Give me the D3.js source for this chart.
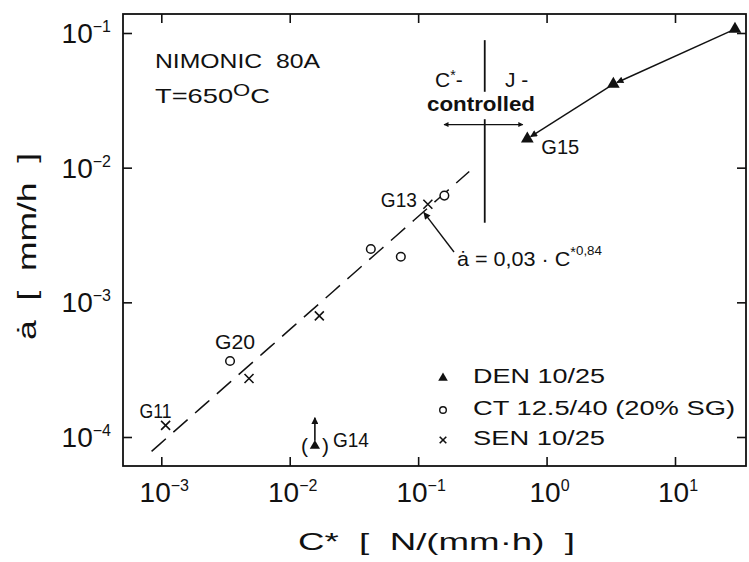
<!DOCTYPE html>
<html><head><meta charset="utf-8">
<script src="https://cdn.jsdelivr.net/npm/d3@7"></script>
<style>
html,body{margin:0;padding:0;background:#fff;}
svg{display:block;font-family:"Liberation Sans",Arial,sans-serif;}
text{fill:#111;}
</style></head>
<body><svg id="c" width="749" height="562"></svg>
<script>
// ---- data ----
const xTickValues = [1e-3, 1e-2, 1e-1, 1, 10];
const xTickExps = ["\u22123", "\u22122", "\u22121", "0", "1"];
const yTickValues = [1e-1, 1e-2, 1e-3, 1e-4];
const yTickExps = ["\u22121", "\u22122", "\u22123", "\u22124"];

const denC = [0.708, 3.31, 29.3];
const denA = [0.0164, 0.0417, 0.107];
const ctC = [3.43e-3, 0.0428, 0.0733, 0.160];
const ctA = [3.67e-4, 2.49e-3, 2.18e-3, 6.2e-3];
const senC = [1.08e-3, 4.82e-3, 0.0170, 0.119];
const senA = [1.22e-4, 2.72e-4, 7.93e-4, 5.35e-3];
const g14C = [0.0157];
const g14A = [8.6e-5];

const fitCoef = 0.03, fitExp = 0.84;
const fitRange = [8.4e-4, 0.25];
const boundaryC = 0.33;
const boundaryUpper = [0.0885, 0.0366];
const boundaryLower = [0.0229, 0.0039];
const arrowA = 0.0209, arrowC = [0.159, 0.653];

const legendLabels = ["DEN 10/25", "CT 12.5/40 (20% SG)", "SEN 10/25"];

// ---- layout ----
const svg = d3.select("#c");
const L = 123, R = 746, T = 14, B = 466;
const x = d3.scaleLog().domain([1e-3, 10]).range([161.3, 675]);
const y = d3.scaleLog().domain([1e-4, 1e-1]).range([437, 33]);

const defs = svg.append("defs");
defs.append("marker").attr("id","ah").attr("viewBox","0 0 10 10").attr("refX",9).attr("refY",5)
  .attr("markerWidth",9).attr("markerHeight",7).attr("markerUnits","userSpaceOnUse").attr("orient","auto")
  .append("path").attr("d","M0,0 L10,5 L0,10 z").attr("fill","#111");
defs.append("marker").attr("id","ahs").attr("viewBox","0 0 10 10").attr("refX",9).attr("refY",5)
  .attr("markerWidth",8).attr("markerHeight",5).attr("markerUnits","userSpaceOnUse").attr("orient","auto-start-reverse")
  .append("path").attr("d","M0,0 L10,5 L0,10 z").attr("fill","#111");

// frame
svg.append("rect").attr("x",L).attr("y",T).attr("width",R-L).attr("height",B-T)
  .attr("fill","none").attr("stroke","#111").attr("stroke-width",1.8);

// axes with inward ticks
const tl = 9;
const styleAxis = g=>{g.select(".domain").remove(); g.selectAll("line").attr("stroke","#111").attr("stroke-width",1.6);};
svg.append("g").attr("transform",`translate(0,${B})`)
  .call(d3.axisBottom(x).tickValues(xTickValues).tickSize(-tl).tickFormat("")).call(styleAxis);
svg.append("g").attr("transform",`translate(0,${T})`)
  .call(d3.axisTop(x).tickValues(xTickValues).tickSize(-tl).tickFormat("")).call(styleAxis);
svg.append("g").attr("transform",`translate(${L},0)`)
  .call(d3.axisLeft(y).tickValues(yTickValues).tickSize(-tl).tickFormat("")).call(styleAxis);
svg.append("g").attr("transform",`translate(${R},0)`)
  .call(d3.axisRight(y).tickValues(yTickValues).tickSize(-tl).tickFormat("")).call(styleAxis);

// tick labels
xTickValues.forEach((v,i)=>{
  const t = svg.append("text").attr("x", x(v)+3).attr("y", 502).attr("text-anchor","middle")
    .attr("font-size",28);
  t.append("tspan").text("10");
  t.append("tspan").attr("dy",-11).attr("font-size",16).text(xTickExps[i]);
});
yTickValues.forEach((v,i)=>{
  const t = svg.append("text").attr("x", 111).attr("y", y(v)+10).attr("text-anchor","end")
    .attr("font-size",28);
  t.append("tspan").text("10");
  t.append("tspan").attr("dy",-11).attr("font-size",16).text(yTickExps[i]);
});

// axis titles
svg.append("text").attr("x",298).attr("y",550).attr("font-size",24)
  .attr("textLength",277).attr("lengthAdjust","spacingAndGlyphs")
  .style("white-space","pre").text("C*  [  N/(mm\u00b7h)  ]");
svg.append("text").attr("transform","translate(36,340) rotate(-90)").attr("font-size",25)
  .attr("textLength",187).attr("lengthAdjust","spacingAndGlyphs")
  .style("white-space","pre").text("\u0227  [  mm/h  ]");

// fit line (dashed)
const fitPts = d3.range(0, 41).map(i => {
  const lc = Math.log10(fitRange[0]) + i/40*(Math.log10(fitRange[1]) - Math.log10(fitRange[0]));
  const c = Math.pow(10, lc);
  return [c, fitCoef*Math.pow(c, fitExp)];
});
svg.append("path").datum(fitPts)
  .attr("d", d3.line().x(d=>x(d[0])).y(d=>y(d[1])))
  .attr("fill","none").attr("stroke","#111").attr("stroke-width",1.5).attr("stroke-dasharray","19,10");

// boundary line
svg.append("line").attr("x1",x(boundaryC)).attr("x2",x(boundaryC)).attr("y1",y(boundaryUpper[0])).attr("y2",y(boundaryUpper[1]))
  .attr("stroke","#111").attr("stroke-width",1.8);
svg.append("line").attr("x1",x(boundaryC)).attr("x2",x(boundaryC)).attr("y1",y(boundaryLower[0])).attr("y2",y(boundaryLower[1]))
  .attr("stroke","#111").attr("stroke-width",1.8);
svg.append("line").attr("x1",x(arrowC[0])).attr("x2",x(arrowC[1])).attr("y1",y(arrowA)).attr("y2",y(arrowA))
  .attr("stroke","#111").attr("stroke-width",1.3).attr("marker-start","url(#ahs)").attr("marker-end","url(#ahs)");

svg.append("text").attr("x",435).attr("y",87).attr("font-size",21)
  .html('C<tspan dy="-7" font-size="14">*</tspan><tspan dy="7">-</tspan>');
svg.append("text").attr("x",505).attr("y",87).attr("font-size",21).style("white-space","pre").text("J -");
svg.append("text").attr("x",427).attr("y",111).attr("font-size",20).attr("font-weight","bold")
  .attr("textLength",108).attr("lengthAdjust","spacingAndGlyphs").text("controlled");

// DEN connecting arrows (from high C* down to G15)
for (let i = denC.length-1; i > 0; i--) {
  const x1 = x(denC[i]), y1 = y(denA[i]), x2 = x(denC[i-1]), y2 = y(denA[i-1]);
  const dx = x2-x1, dy = y2-y1, len = Math.hypot(dx,dy);
  svg.append("line").attr("x1",x1).attr("y1",y1).attr("x2",x2 - dx/len*4).attr("y2",y2 - dy/len*4)
    .attr("stroke","#111").attr("stroke-width",1.4).attr("marker-end","url(#ah)");
}

// markers
const tri = d3.symbol().type(d3.symbolTriangle).size(70);
svg.selectAll(".den").data(denC.map((c,i)=>[c,denA[i]])).join("path")
  .attr("transform",d=>`translate(${x(d[0])},${y(d[1])})`).attr("d",tri).attr("fill","#111");
svg.selectAll(".ct").data(ctC.map((c,i)=>[c,ctA[i]])).join("circle")
  .attr("cx",d=>x(d[0])).attr("cy",d=>y(d[1])).attr("r",4.3)
  .attr("fill","#fff").attr("stroke","#111").attr("stroke-width",1.5);
const cross = (sel, s) => sel.attr("d", `M${-s},${-s}L${s},${s}M${-s},${s}L${s},${-s}`)
  .attr("stroke","#111").attr("stroke-width",1.6).attr("fill","none");
svg.selectAll(".sen").data(senC.map((c,i)=>[c,senA[i]])).join("path")
  .attr("transform",d=>`translate(${x(d[0])},${y(d[1])})`).call(cross, 4.5);

// G14 (lower bound)
const gx = x(g14C[0]), gy = y(g14A[0]);
svg.append("path").attr("transform",`translate(${gx},${gy})`).attr("d",d3.symbol().type(d3.symbolTriangle).size(45)).attr("fill","#111");
svg.append("line").attr("x1",gx).attr("x2",gx).attr("y1",gy-5).attr("y2",gy-28)
  .attr("stroke","#111").attr("stroke-width",1.6).attr("marker-end","url(#ah)");
svg.append("text").attr("x",gx-14).attr("y",gy+7).attr("font-size",21).text("(");
svg.append("text").attr("x",gx+7).attr("y",gy+7).attr("font-size",21).text(")");
svg.append("text").attr("x",gx+18).attr("y",gy+1).attr("font-size",20)
  .attr("textLength",36).attr("lengthAdjust","spacingAndGlyphs").text("G14");

// point labels
const lab = (txt, px, py, w) => svg.append("text").attr("x",px).attr("y",py).attr("font-size",20)
  .attr("textLength",w).attr("lengthAdjust","spacingAndGlyphs").text(txt);
lab("G11", x(senC[0])-26, y(senA[0])-7, 32);
lab("G20", x(ctC[0])-15, y(ctA[0])-12, 40);
lab("G13", x(senC[3])-47, y(senA[3])+3, 36);
lab("G15", x(denC[0])+14, y(denA[0])+15, 38);

// formula annotation
const fitTarget = 0.115;
svg.append("line").attr("x1",454).attr("y1",252)
  .attr("x2",x(fitTarget)-2).attr("y2",y(fitCoef*Math.pow(fitTarget,fitExp))+3)
  .attr("stroke","#111").attr("stroke-width",1.4).attr("marker-end","url(#ah)");
svg.append("text").attr("x",457).attr("y",266).attr("font-size",21)
  .attr("textLength",145).attr("lengthAdjust","spacingAndGlyphs")
  .html('\u0227 = 0,03 \u00b7 C<tspan dy="-9" font-size="14">*</tspan><tspan font-size="13" dy="-2">0,84</tspan>');

// header text
svg.append("text").attr("x",155).attr("y",68).attr("font-size",21)
  .attr("textLength",165).attr("lengthAdjust","spacingAndGlyphs").style("white-space","pre").text("NIMONIC  80A");
svg.append("text").attr("x",155).attr("y",103).attr("font-size",21)
  .attr("textLength",115).attr("lengthAdjust","spacingAndGlyphs")
  .html('T=650<tspan dy="-7" font-size="17">O</tspan><tspan dy="7">C</tspan>');

// legend
const lgX = 443, lgY = [378, 410, 440];
svg.append("path").attr("transform",`translate(${lgX},${lgY[0]})`).attr("d",d3.symbol().type(d3.symbolTriangle).size(40)).attr("fill","#111");
svg.append("circle").attr("cx",lgX).attr("cy",lgY[1]).attr("r",3.3).attr("fill","#fff").attr("stroke","#111").attr("stroke-width",1.4);
svg.append("path").attr("transform",`translate(${lgX},${lgY[2]})`).call(cross, 3.3);
const lgW = [132, 262, 132];
legendLabels.forEach((t,i)=>{
  svg.append("text").attr("x",473).attr("y",lgY[i]+5).attr("font-size",20)
    .attr("textLength",lgW[i]).attr("lengthAdjust","spacingAndGlyphs").text(t);
});
</script></body></html>
